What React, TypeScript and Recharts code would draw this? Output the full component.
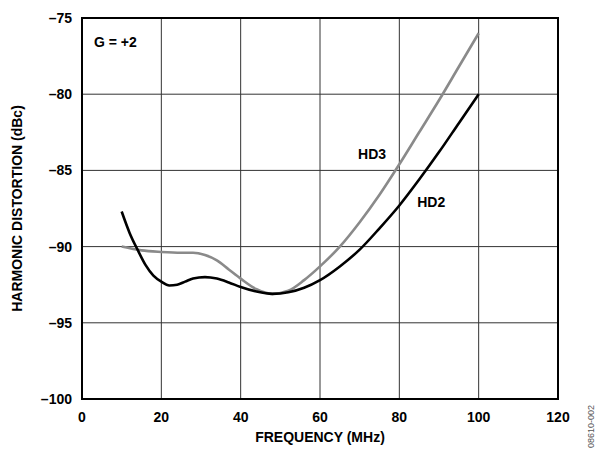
import { LineChart, Line, XAxis, YAxis, CartesianGrid, ReferenceArea, ReferenceDot } from 'recharts';

const freqTicks = [0, 20, 40, 60, 80, 100, 120];
const dbTicks = [-100, -95, -90, -85, -80, -75];

const hd2Freq = [10, 12, 14, 16, 18, 20, 22, 24, 26, 28, 31, 34, 37, 40, 44, 48, 52, 56, 60, 65, 70, 75, 80, 85, 90, 95, 100];
const hd2Db = [-87.7, -89.1, -90.2, -91.2, -91.9, -92.3, -92.55, -92.5, -92.3, -92.1, -92.0, -92.1, -92.35, -92.65, -92.95, -93.1, -93.0, -92.7, -92.2, -91.3, -90.2, -88.8, -87.3, -85.6, -83.8, -81.9, -80.0];

const hd3Freq = [10, 15, 20, 25, 28, 31, 34, 37, 40, 44, 48, 52, 56, 60, 65, 70, 75, 80, 85, 90, 95, 100];
const hd3Db = [-90.0, -90.25, -90.35, -90.4, -90.4, -90.55, -90.9, -91.5, -92.1, -92.8, -93.1, -92.9, -92.2, -91.3, -90.0, -88.4, -86.6, -84.6, -82.5, -80.4, -78.2, -76.0];

const hd2Data = hd2Freq.map((x, i) => ({ x, y: hd2Db[i] }));
const hd3Data = hd3Freq.map((x, i) => ({ x, y: hd3Db[i] }));

const font = '"Liberation Sans", Arial, sans-serif';
const tickStyle = { fontFamily: font, fontSize: 14, fontWeight: 'bold', fill: '#000' };

const fmtDb = (v: number) => (v < 0 ? '\u2013' + Math.abs(v) : String(v));

export default function App() {
  return (
    <div style={{ position: 'absolute', left: 0, top: 0, width: 595, height: 449, background: '#fff' }}>
      <LineChart width={595} height={449} margin={{ top: 18, right: 37, bottom: 0, left: 0 }}>
        <CartesianGrid stroke="#333" strokeWidth={1} />
        <XAxis
          type="number"
          dataKey="x"
          domain={[0, 120]}
          ticks={freqTicks}
          height={50}
          tickSize={0}
          tickMargin={13}
          tick={tickStyle}
          axisLine={{ stroke: '#000', strokeWidth: 2 }}
          label={{
            value: 'FREQUENCY (MHz)',
            position: 'insideBottom',
            offset: 7,
            style: { fontFamily: font, fontSize: 14, fontWeight: 'bold', fill: '#000' },
          }}
        />
        <YAxis
          type="number"
          dataKey="y"
          domain={[-100, -75]}
          ticks={dbTicks}
          width={82}
          tickSize={0}
          tickMargin={10}
          tick={tickStyle}
          tickFormatter={fmtDb}
          axisLine={{ stroke: '#000', strokeWidth: 2 }}
          label={{
            value: 'HARMONIC DISTORTION (dBc)',
            angle: -90,
            position: 'center',
            dx: -24,
            style: { fontFamily: font, fontSize: 14, fontWeight: 'bold', fill: '#000' },
          }}
        />
        <ReferenceArea x1={0} x2={120} y1={-100} y2={-75} fill="none" stroke="#000" strokeWidth={2} fillOpacity={0} />
        <Line data={hd3Data} dataKey="y" type="monotone" stroke="#8a8a8a" strokeWidth={2.6} dot={false} isAnimationActive={false} />
        <Line data={hd2Data} dataKey="y" type="monotone" stroke="#000" strokeWidth={2.6} dot={false} isAnimationActive={false} />
        <ReferenceDot x={3} y={-76.6} r={0} label={{ value: 'G = +2', position: 'right', offset: 0, style: tickStyle }} />
        <ReferenceDot x={69.6} y={-83.9} r={0} label={{ value: 'HD3', position: 'right', offset: 0, style: tickStyle }} />
        <ReferenceDot x={84.5} y={-87.1} r={0} label={{ value: 'HD2', position: 'right', offset: 0, style: tickStyle }} />
      </LineChart>
      <div
        style={{
          position: 'absolute',
          left: 566,
          top: 418,
          width: 50,
          transform: 'rotate(-90deg)',
          fontFamily: font,
          fontSize: 9,
          color: '#555',
          whiteSpace: 'nowrap',
        }}
      >
        08610-002
      </div>
    </div>
  );
}
